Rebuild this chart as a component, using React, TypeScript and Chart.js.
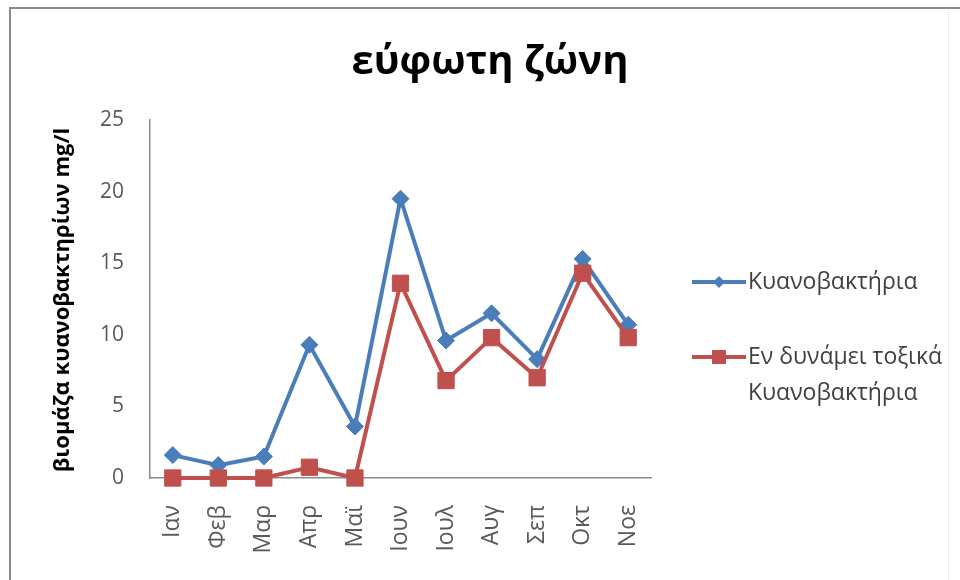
import React, { useEffect, useRef } from "react";
import { Chart, registerables } from "chart.js";

Chart.register(...registerables);

const categories = ["Ιαν", "Φεβ", "Μαρ", "Απρ", "Μαϊ", "Ιουν", "Ιουλ", "Αυγ", "Σεπ", "Οκτ", "Νοε"];
const cyanobacteria = [1.6, 0.9, 1.5, 9.3, 3.6, 19.5, 9.6, 11.5, 8.3, 15.3, 10.7];
const toxicCyanobacteria = [0, 0, 0, 0.75, 0, 13.6, 6.8, 9.8, 7.0, 14.3, 9.8];
const yTicks = [0, 5, 10, 15, 20, 25];
const titleText = "εύφωτη ζώνη";
const yAxisTitle = "βιομάζα κυανοβακτηρίων mg/l";
const legendBlue = ["Κυανοβακτήρια"];
const legendRed = ["Εν δυνάμει τοξικά", "Κυανοβακτήρια"];

const BLUE = "#4A7EBB";
const RED = "#C0504D";
const FONT = '"Open Sans", "Noto Sans", sans-serif';

function diamond(ctx: CanvasRenderingContext2D, x: number, y: number, r: number) {
  ctx.beginPath();
  ctx.moveTo(x, y - r);
  ctx.lineTo(x + r, y);
  ctx.lineTo(x, y + r);
  ctx.lineTo(x - r, y);
  ctx.closePath();
  ctx.fill();
}

const decor = {
  id: "decor",
  afterDraw(chart: any) {
    const ctx: CanvasRenderingContext2D = chart.ctx;
    ctx.save();
    // frame
    ctx.strokeStyle = "#8a8a8a";
    ctx.lineWidth = 2;
    ctx.beginPath();
    ctx.moveTo(10, 580);
    ctx.lineTo(10, 8);
    ctx.lineTo(960, 8);
    ctx.stroke();
    ctx.strokeStyle = "#ededed";
    ctx.lineWidth = 1;
    ctx.beginPath();
    ctx.moveTo(948.5, 10);
    ctx.lineTo(948.5, 580);
    ctx.stroke();

    // title
    ctx.fillStyle = "#000";
    ctx.font = `bold 40px ${FONT}`;
    ctx.textAlign = "center";
    ctx.textBaseline = "middle";
    ctx.fillText(titleText, 490, 63);

    // y axis title
    ctx.save();
    ctx.translate(63, 300);
    ctx.rotate(-Math.PI / 2);
    ctx.font = `bold 22px ${FONT}`;
    ctx.fillStyle = "#000";
    ctx.fillText(yAxisTitle, 0, 0);
    ctx.restore();

    // legend
    ctx.textAlign = "left";
    ctx.textBaseline = "middle";
    ctx.font = `23px ${FONT}`;
    // blue
    ctx.strokeStyle = BLUE;
    ctx.lineWidth = 4;
    ctx.beginPath();
    ctx.moveTo(692, 282);
    ctx.lineTo(746, 282);
    ctx.stroke();
    ctx.fillStyle = BLUE;
    diamond(ctx, 719, 282, 6);
    ctx.fillStyle = "#404040";
    legendBlue.forEach((t, i) => ctx.fillText(t, 748, 282 + i * 36));
    // red
    ctx.strokeStyle = RED;
    ctx.beginPath();
    ctx.moveTo(692, 357);
    ctx.lineTo(746, 357);
    ctx.stroke();
    ctx.fillStyle = RED;
    ctx.fillRect(712, 350, 14, 14);
    ctx.fillStyle = "#404040";
    legendRed.forEach((t, i) => ctx.fillText(t, 748, 357 + i * 36));
    ctx.restore();
  },
};

export default function App() {
  const ref = useRef<HTMLCanvasElement>(null);
  useEffect(() => {
    if (!ref.current) return;
    const chart = new Chart(ref.current, {
      type: "line",
      data: {
        labels: categories,
        datasets: [
          {
            label: legendBlue.join(" "),
            data: cyanobacteria,
            borderColor: BLUE,
            backgroundColor: BLUE,
            borderWidth: 4,
            pointStyle: "rectRot",
            pointRadius: 8.5,
            pointBorderWidth: 1,
            pointBorderColor: BLUE,
            pointBackgroundColor: BLUE,
            tension: 0,
            clip: false as any,
            order: 1,
          },
          {
            label: legendRed.join(" "),
            data: toxicCyanobacteria,
            borderColor: RED,
            backgroundColor: RED,
            borderWidth: 4,
            pointStyle: "rect",
            pointRadius: 11.5,
            pointBorderWidth: 1,
            pointBorderColor: RED,
            pointBackgroundColor: RED,
            tension: 0,
            clip: false as any,
            order: 0,
          },
        ],
      },
      options: {
        responsive: false,
        animation: false,
        layout: { padding: { left: 0, right: 309, top: 120, bottom: 0 } },
        plugins: {
          legend: { display: false },
          title: { display: false },
          tooltip: { enabled: false },
        },
        scales: {
          x: {
            offset: true,
            grid: { display: false, drawTicks: false, offset: true },
            border: { display: true, color: "#8c8c8c", width: 1.5 },
            ticks: {
              minRotation: 90,
              maxRotation: 90,
              padding: 27,
              color: "#595959",
              font: { family: FONT, size: 23 },
              autoSkip: false,
            },
            afterFit: (s: any) => {
              s.height = 102;
            },
          },
          y: {
            min: 0,
            max: 25,
            grid: { display: false, drawTicks: false },
            border: { display: true, color: "#8c8c8c", width: 1.5 },
            ticks: {
              padding: 26,
              color: "#595959",
              font: { family: FONT, size: 21 },
            },
            afterBuildTicks: (s: any) => {
              s.ticks = yTicks.map((v) => ({ value: v }));
            },
            afterFit: (s: any) => {
              s.width = 150;
            },
          },
        },
      },
      plugins: [decor],
    });
    return () => chart.destroy();
  }, []);
  return (
    <div style={{ position: "absolute", left: 0, top: 0, width: 960, height: 580, background: "#fff" }}>
      <canvas ref={ref} width={960} height={580} />
    </div>
  );
}
